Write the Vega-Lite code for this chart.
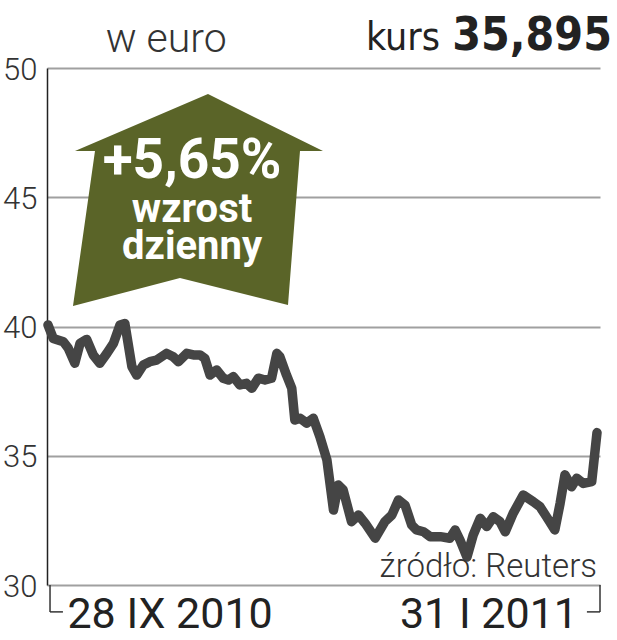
{
  "$schema": "https://vega.github.io/schema/vega-lite/v6.json",
  "width": 553,
  "height": 517,
  "autosize": {"type": "none"},
  "padding": {"left": 47, "top": 68, "right": 17, "bottom": 55},
  "background": "white",
  "config": {"view": {"stroke": null}},
  "datasets": {
    "kurs": [
      {"d": 0, "v": 40.06}, {"d": 1.2, "v": 39.54}, {"d": 3.5, "v": 39.41}, {"d": 4.6, "v": 39.16},
      {"d": 6.1, "v": 38.58}, {"d": 7.3, "v": 39.35}, {"d": 8.8, "v": 39.5}, {"d": 10.3, "v": 38.9},
      {"d": 11.8, "v": 38.58}, {"d": 13.4, "v": 38.96}, {"d": 14.9, "v": 39.35}, {"d": 16.4, "v": 40.06},
      {"d": 17.5, "v": 40.12}, {"d": 19.1, "v": 38.45}, {"d": 20.2, "v": 38.12}, {"d": 21.7, "v": 38.51},
      {"d": 23.2, "v": 38.64}, {"d": 24.7, "v": 38.7}, {"d": 27.0, "v": 38.96}, {"d": 28.5, "v": 38.83},
      {"d": 29.7, "v": 38.64}, {"d": 31.6, "v": 38.96}, {"d": 33.1, "v": 38.9}, {"d": 34.6, "v": 38.9},
      {"d": 35.7, "v": 38.77}, {"d": 36.9, "v": 38.12}, {"d": 38.4, "v": 38.32}, {"d": 39.9, "v": 38.0},
      {"d": 41.1, "v": 37.93}, {"d": 42.2, "v": 38.06}, {"d": 43.7, "v": 37.74}, {"d": 45.2, "v": 37.8},
      {"d": 46.4, "v": 37.61}, {"d": 47.9, "v": 38.0}, {"d": 49.4, "v": 37.93}, {"d": 50.9, "v": 38.0},
      {"d": 52.1, "v": 38.96}, {"d": 52.8, "v": 38.83}, {"d": 54.3, "v": 38.12}, {"d": 55.5, "v": 37.61},
      {"d": 56.2, "v": 36.38}, {"d": 57.4, "v": 36.45}, {"d": 58.9, "v": 36.26}, {"d": 60.4, "v": 36.45},
      {"d": 61.9, "v": 35.74}, {"d": 63.5, "v": 34.84}, {"d": 65.0, "v": 32.9}, {"d": 66.1, "v": 33.87},
      {"d": 67.2, "v": 33.68}, {"d": 69.1, "v": 32.45}, {"d": 70.7, "v": 32.71}, {"d": 72.2, "v": 32.39},
      {"d": 74.5, "v": 31.81}, {"d": 76.7, "v": 32.45}, {"d": 78.3, "v": 32.71}, {"d": 79.8, "v": 33.29},
      {"d": 81.3, "v": 33.09}, {"d": 82.8, "v": 32.32}, {"d": 83.9, "v": 32.13}, {"d": 85.5, "v": 32.06},
      {"d": 87.0, "v": 31.87}, {"d": 89.3, "v": 31.87}, {"d": 91.5, "v": 31.81}, {"d": 92.7, "v": 32.13},
      {"d": 93.8, "v": 31.74}, {"d": 95.4, "v": 31.08}, {"d": 96.8, "v": 31.93}, {"d": 98.4, "v": 32.58},
      {"d": 99.9, "v": 32.26}, {"d": 101.4, "v": 32.64}, {"d": 102.9, "v": 32.45}, {"d": 104.1, "v": 32.06},
      {"d": 105.9, "v": 32.77}, {"d": 108.2, "v": 33.48}, {"d": 110.5, "v": 33.22}, {"d": 112.0, "v": 33.03},
      {"d": 113.5, "v": 32.64}, {"d": 115.4, "v": 32.13}, {"d": 116.6, "v": 33.16}, {"d": 117.7, "v": 34.26},
      {"d": 119.2, "v": 33.8}, {"d": 120.4, "v": 34.13}, {"d": 121.9, "v": 33.93}, {"d": 123.8, "v": 34.0},
      {"d": 125.0, "v": 35.895}
    ]
  },
  "encoding": {
    "x": {"field": "d", "type": "quantitative", "scale": {"domain": [-0.228, 125.68], "nice": false, "zero": false}, "axis": null},
    "y": {"field": "v", "type": "quantitative", "scale": {"domain": [30, 50], "nice": false, "zero": false},
      "axis": {"values": [30, 35, 40, 45, 50], "title": null, "grid": true, "gridColor": "#a0a0a0", "gridWidth": 2,
        "domain": true, "domainColor": "#222222", "domainWidth": 1.5, "ticks": false, "labelPadding": 10, "labelFontSize": 31,
        "labelFont": "Roboto", "labelFontWeight": 300, "labelColor": "#333333", "labelBaseline": "middle", "labelOffset": 2}}
  },
  "layer": [
    {
      "data": {"name": "kurs"},
      "mark": {"type": "line", "color": "#454545", "strokeWidth": 9.5, "strokeCap": "round", "strokeJoin": "round"}
    },
    {
      "data": {"values": [{"d": 34.15, "v": 44.89}]},
      "mark": {"type": "point", "shape": "M0.08,-0.848L1,-0.392L0.816,-0.392L0.72,0.84L-0.144,0.624L-1,0.848L-0.824,-0.392L-0.984,-0.392Z",
        "size": 62500, "filled": true, "opacity": 1, "color": "#5a6428", "strokeWidth": 0}
    },
    {
      "data": {"values": [{"t": "+5,65%", "d": 32.8, "v": 45.74}]},
      "mark": {"type": "text", "font": "Roboto", "fontWeight": "bold", "fontSize": 55, "color": "white", "align": "center", "baseline": "alphabetic"},
      "encoding": {"text": {"field": "t"}}
    },
    {
      "data": {"values": [{"t": "wzrost", "d": 32.8, "v": 44.04}, {"t": "dzienny", "d": 32.8, "v": 42.6}]},
      "mark": {"type": "text", "font": "Roboto", "fontWeight": "bold", "fontSize": 40, "color": "white", "align": "center", "baseline": "alphabetic"},
      "encoding": {"text": {"field": "t"}}
    },
    {
      "data": {"values": [{"t": "w euro", "d": 26.9, "v": 50.62}]},
      "mark": {"type": "text", "font": "Roboto", "fontWeight": 300, "fontSize": 41, "color": "#333333", "align": "center", "baseline": "alphabetic"},
      "encoding": {"text": {"field": "t"}}
    },
    {
      "data": {"values": [{"t": "kurs", "d": 89.25, "v": 50.7}]},
      "mark": {"type": "text", "font": "DejaVu Sans Condensed", "fontSize": 39, "color": "#222222", "align": "right", "baseline": "alphabetic"},
      "encoding": {"text": {"field": "t"}}
    },
    {
      "data": {"values": [{"t": "35,895", "d": 128.4, "v": 50.7}]},
      "mark": {"type": "text", "font": "DejaVu Sans Condensed", "fontWeight": "bold", "fontSize": 46, "color": "#222222", "align": "right", "baseline": "alphabetic"},
      "encoding": {"text": {"field": "t"}}
    },
    {
      "data": {"values": [{"t": "28 IX 2010", "d": 27.8, "v": 28.34}, {"t": "31 I 2011", "d": 100.4, "v": 28.34}]},
      "mark": {"type": "text", "font": "Roboto", "fontSize": 43, "color": "#222222", "align": "center", "baseline": "alphabetic"},
      "encoding": {"text": {"field": "t"}}
    },
    {
      "data": {"values": [{"t": "źródło: Reuters", "d": 125, "v": 30.31}]},
      "mark": {"type": "text", "font": "Roboto", "fontWeight": 300, "fontSize": 33, "color": "#333333", "align": "right", "baseline": "alphabetic"},
      "encoding": {"text": {"field": "t"}}
    },
    {
      "data": {"values": [{"d": 0.46, "v": 30, "v2": 28.96}, {"d": 125.68, "v": 30, "v2": 28.96}]},
      "mark": {"type": "rule", "color": "#333333", "strokeWidth": 1.5},
      "encoding": {"y2": {"field": "v2"}}
    },
    {
      "data": {"values": [{"d": 0.46, "d2": 3.4, "v": 28.96}, {"d": 122.7, "d2": 125.68, "v": 28.96}]},
      "mark": {"type": "rule", "color": "#333333", "strokeWidth": 1.5},
      "encoding": {"x2": {"field": "d2"}}
    }
  ]
}
